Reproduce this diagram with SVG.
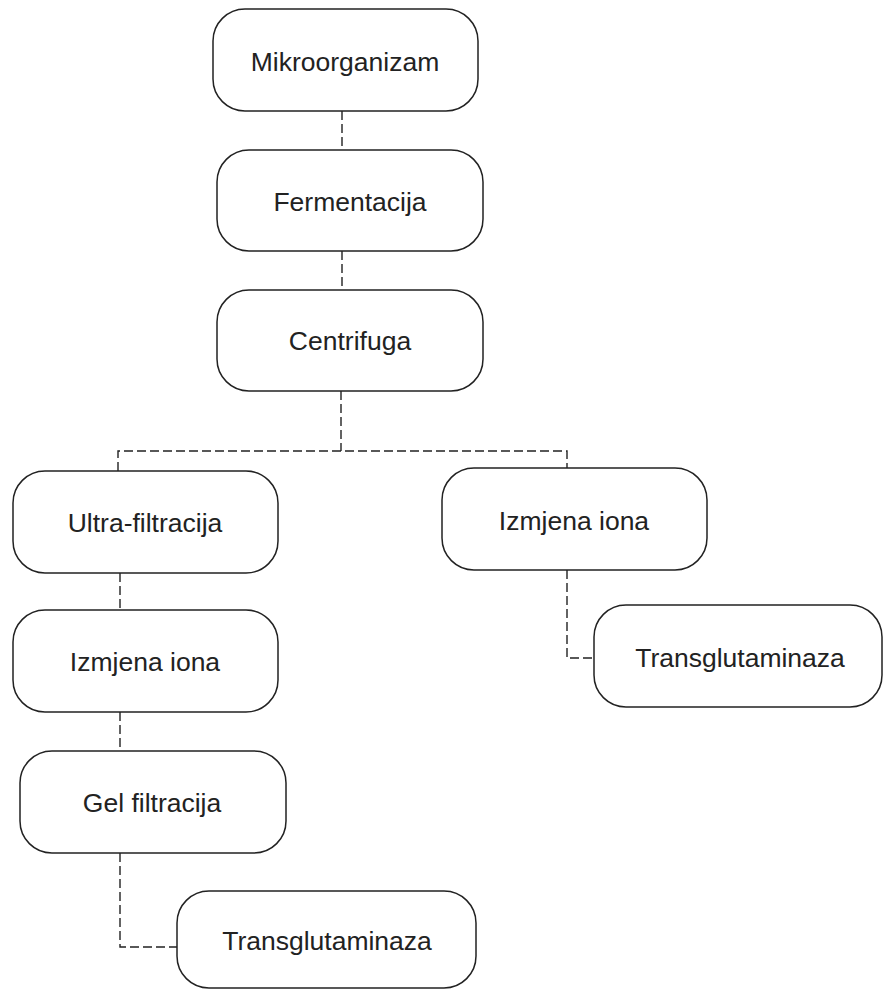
<svg xmlns="http://www.w3.org/2000/svg" width="883" height="990" viewBox="0 0 883 990">
<style>
.box{fill:#fff;stroke:#222;stroke-width:1.5}
.lbl{font-family:"Liberation Sans",Arial,sans-serif;font-size:26.5px;fill:#222;text-anchor:middle}
.con{fill:none;stroke:#222;stroke-width:1.4;stroke-dasharray:9 4}
</style>
<rect width="883" height="990" fill="#fff"/>
<g id="connectors">
<path class="con" d="M342 111 V150"/>
<path class="con" d="M342 251 V290"/>
<path class="con" d="M341 391 V451"/>
<path class="con" d="M118 471 V451 H567 V468"/>
<path class="con" d="M120 573 V610"/>
<path class="con" d="M120 712 V751"/>
<path class="con" d="M120 853 V947 H177"/>
<path class="con" d="M567 570 V658 H594"/>
</g>
<g id="n1"><rect class="box" x="213" y="9" width="265" height="102" rx="32"/><text class="lbl" x="345" y="71">Mikroorganizam</text></g>
<g id="n2"><rect class="box" x="217" y="150" width="266" height="101" rx="32"/><text class="lbl" x="350" y="211">Fermentacija</text></g>
<g id="n3"><rect class="box" x="217" y="290" width="266" height="101" rx="32"/><text class="lbl" x="350" y="350">Centrifuga</text></g>
<g id="n4"><rect class="box" x="13" y="471" width="265" height="102" rx="32"/><text class="lbl" x="145" y="532">Ultra-filtracija</text></g>
<g id="n5"><rect class="box" x="442" y="468" width="265" height="102" rx="32"/><text class="lbl" x="574" y="530">Izmjena iona</text></g>
<g id="n6"><rect class="box" x="13" y="610" width="265" height="102" rx="32"/><text class="lbl" x="145" y="671">Izmjena iona</text></g>
<g id="n7"><rect class="box" x="594" y="605" width="288" height="102" rx="32"/><text class="lbl" x="740" y="667">Transglutaminaza</text></g>
<g id="n8"><rect class="box" x="20" y="751" width="266" height="102" rx="32"/><text class="lbl" x="152" y="812">Gel filtracija</text></g>
<g id="n9"><rect class="box" x="177" y="891" width="299" height="97" rx="32"/><text class="lbl" x="327" y="950">Transglutaminaza</text></g>
</svg>
